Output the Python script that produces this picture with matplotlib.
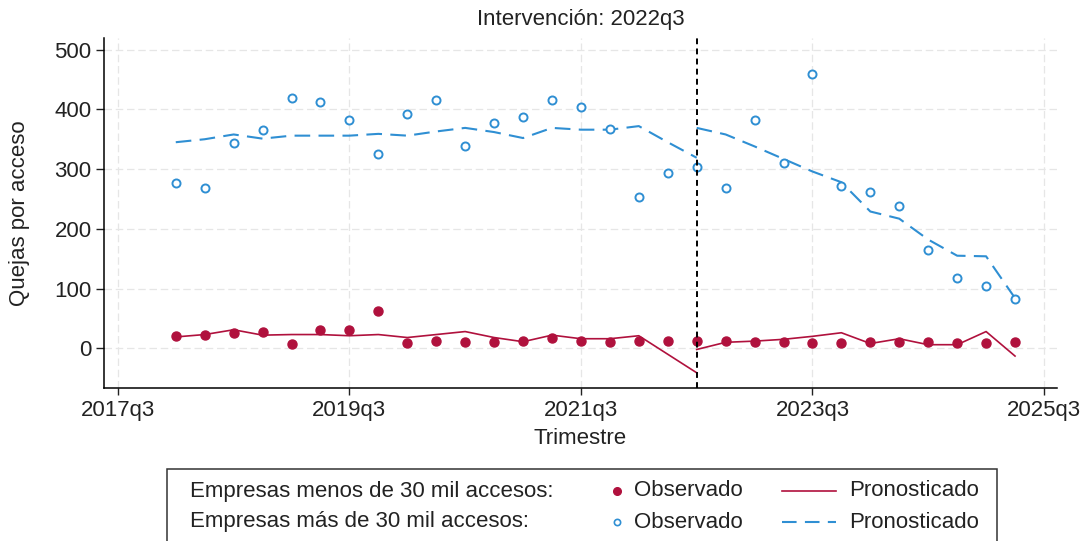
import numpy as np
import matplotlib
matplotlib.use("Agg")
import matplotlib.pyplot as plt
from matplotlib.lines import Line2D
from matplotlib.patches import Rectangle

plt.rcParams['font.family'] = ['Liberation Sans', 'DejaVu Sans']

# quarters observed: 2018q1 .. 2025q2
first_q = (2018, 1)
n_q = 30
intervention = (2022, 3)

blue_obs = [276, 269, 344, 366, 419, 412, 382, 326, 393, 416, 339, 377, 387, 416, 404,
            367, 254, 294, 304, 268, 382, 310, 459, 271, 262, 238, 165, 118, 105, 83]
red_obs = [20, 23, 25, 27, 8, 30, 31, 63, 9, 12, 10, 10, 12, 17, 12,
           11, 12, 12, 12, 12, 11, 11, 9, 9, 10, 11, 10, 9, 9, 11]

# predicted, pre-intervention (2018q1..2022q3) and post (2022q3..2025q2)
blue_pre = [345, 350, 358, 351, 356, 356, 356, 359, 356, 363, 369, 362, 352, 369, 366,
            366, 372, 345, 319]
blue_post = [369, 358, 338, 317, 296, 278, 229, 217, 182, 155, 154, 84]
red_pre = [19, 23, 31, 22, 23, 23, 21, 23, 18, 23, 28, 18, 11, 22, 16, 16, 21, -10, -41]
red_post = [-2, 10, 12, 15, 20, 26, 8, 16, 6, 6, 28, -13]

tick_q = [(2017, 3), (2019, 3), (2021, 3), (2023, 3), (2025, 3)]
yticks = [0, 100, 200, 300, 400, 500]


def qnum(yq):
    return yq[0] * 4 + yq[1] - 1


t0 = qnum(first_q)
t = np.arange(t0, t0 + n_q)
ti = qnum(intervention)
t_pre = t[t <= ti]
t_post = t[t >= ti]

RED = '#b0113d'
BLUE = '#2f8fd3'
GRID = '#e6e6e6'
FS = 16

W, H = 1087, 541
fig = plt.figure(figsize=(W / 100, H / 100), dpi=100)
x0, x1, y0, y1 = 104, 1056.7, 38.3, 388.3
ax = fig.add_axes([x0 / W, 1 - y1 / H, (x1 - x0) / W, (y1 - y0) / H])

ax.plot(t_pre, red_pre, color=RED, lw=1.2, zorder=3)
ax.plot(t_post, red_post, color=RED, lw=1.2, zorder=3)
ax.plot(t, red_obs, 'o', color=RED, ms=6.5, mec=RED, zorder=4)
ax.plot(t_pre, blue_pre, color=BLUE, lw=1.5, dashes=(7.5, 4), zorder=3)
ax.plot(t_post, blue_post, color=BLUE, lw=1.5, dashes=(7.5, 4), zorder=3)
ax.plot(t, blue_obs, 'o', mfc='white', mec=BLUE, ms=5.8, mew=1.4, zorder=4)
ax.axvline(ti, color='black', lw=1.4, dashes=(3, 2.2), zorder=5)

qt = [qnum(q) for q in tick_q]
ax.set_xticks(qt)
ax.set_xticklabels([f"{y}q{q}" for y, q in tick_q])
ax.set_yticks(yticks)
ax.set_xlim(qnum((2017, 3)) - 0.48, qnum((2025, 3)) + 0.44)
ax.set_ylim(-67, 519)
ax.grid(True, color=GRID, lw=0.9, dashes=(6, 3))
ax.set_axisbelow(True)
for s in ['top', 'right']:
    ax.spines[s].set_visible(False)
for s in ['left', 'bottom']:
    ax.spines[s].set_linewidth(1.1)
ax.tick_params(labelsize=FS, length=5.5, width=1.0, pad=3.5, colors='#222222')
ax.tick_params(axis='x', length=5)

ax.set_ylabel("Quejas por acceso", fontsize=FS, color='#222222')
ax.yaxis.label.set_va('center')
ax.yaxis.set_label_coords((20 - x0) / (x1 - x0), 0.5)
ax.set_xlabel("Trimestre", fontsize=FS, color='#222222')
ax.xaxis.label.set_va('center')
ax.xaxis.set_label_coords(0.5, (y1 - 438) / (y1 - y0))
fig.text((x0 + x1) / 2 / W, 1 - 19 / H, "Intervención: 2022q3", fontsize=FS,
         ha='center', va='center', color='#222222')

# legend box drawn by hand (Stata style, two rows)
fig.add_artist(Rectangle((166.7 / W, 1 - 548 / H), (996.7 - 166.7) / W, (548 - 469) / H,
                         transform=fig.transFigure, fill=False, ec='#333333', lw=1.1))
rows = [("Empresas menos de 30 mil accesos:", 'red'),
        ("Empresas más de 30 mil accesos:", 'blue')]
for i, (lab, kind) in enumerate(rows):
    yy = 1 - (491 + 31 * i) / H
    fig.text(190 / W, yy, lab, fontsize=FS, va='center', ha='left', color='#222222')
    if kind == 'red':
        fig.add_artist(Line2D([617 / W], [yy], marker='o', color=RED, ms=5.5,
                              transform=fig.transFigure))
        fig.add_artist(Line2D([782 / W, 836 / W], [yy, yy], color=RED, lw=1.2,
                              transform=fig.transFigure))
    else:
        fig.add_artist(Line2D([617 / W], [yy], marker='o', mfc='white', mec=BLUE, ms=4.5,
                              mew=1.2, transform=fig.transFigure))
        fig.add_artist(Line2D([782 / W, 836 / W], [yy, yy], color=BLUE, lw=1.5,
                              dashes=(7, 4), transform=fig.transFigure))
    fig.text(634 / W, yy, "Observado", fontsize=FS, va='center', ha='left', color='#222222')
    fig.text(849 / W, yy, "Pronosticado", fontsize=FS, va='center', ha='left', color='#222222')

fig.savefig("out.png", dpi=100)
